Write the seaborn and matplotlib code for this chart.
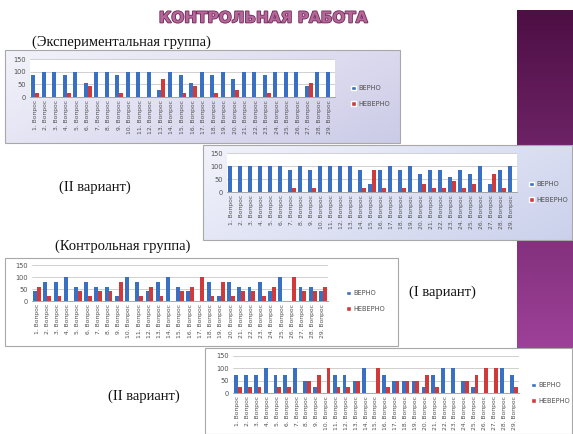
import numpy as np
import pandas as pd
import matplotlib
matplotlib.use("Agg")
import matplotlib.pyplot as plt
import matplotlib.patheffects as pe
from matplotlib.patches import Rectangle, Patch
import seaborn as sns

# ---------------- data ----------------
questions = [f"{i}. Вопрос" for i in range(1, 30)]
series_names = ["ВЕРНО", "НЕВЕРНО"]

exp1_verno = [86, 100, 100, 86, 100, 57, 100, 100, 86, 100, 100, 100, 29, 100, 86,
              57, 100, 86, 100, 71, 100, 100, 86, 100, 100, 100, 43, 100, 100]
exp1_neverno = [14, 0, 0, 14, 0, 43, 0, 0, 14, 0, 0, 0, 71, 0, 14,
                43, 0, 14, 0, 29, 0, 0, 14, 0, 0, 0, 57, 0, 0]

exp2_verno = [100, 100, 100, 100, 100, 100, 86, 100, 86, 100, 100, 100, 100, 86, 29,
              86, 100, 86, 100, 71, 86, 86, 57, 86, 71, 100, 29, 86, 100]
exp2_neverno = [0, 0, 0, 0, 0, 0, 14, 0, 14, 0, 0, 0, 0, 14, 86,
                14, 0, 14, 0, 29, 14, 14, 43, 14, 29, 0, 71, 14, 0]

ctl1_verno = [40, 80, 80, 100, 60, 80, 60, 60, 20, 100, 80, 40, 80, 100, 60,
              40, 0, 80, 20, 80, 60, 60, 80, 40, 100, 0, 60, 60, 40]
ctl1_neverno = [60, 20, 20, 0, 40, 20, 40, 40, 80, 0, 20, 60, 20, 0, 40,
                60, 100, 20, 80, 20, 40, 40, 20, 60, 0, 100, 40, 40, 60]

ctl2_verno = [75, 75, 75, 100, 75, 75, 100, 50, 25, 0, 75, 75, 50, 100, 0,
              75, 50, 50, 50, 25, 75, 100, 100, 50, 25, 0, 0, 100, 75]
ctl2_neverno = [25, 25, 25, 0, 25, 25, 0, 50, 75, 100, 25, 25, 50, 0, 100,
                25, 50, 50, 50, 75, 25, 0, 0, 50, 75, 100, 100, 0, 25]

y_ticks = [0, 50, 100, 150]

BLUE = "#3A70C2"
RED = "#D03A3A"

# ---------------- figure ----------------
sns.set_theme(style="white")
plt.rcParams["font.family"] = ["DejaVu Sans"]

W, H = 573, 434
fig = plt.figure(figsize=(W / 100, H / 100), dpi=100)
fig.patch.set_facecolor("white")


def rect(x0, y0, x1, y1):
    return [x0 / W, 1 - y1 / H, (x1 - x0) / W, (y1 - y0) / H]


def fx(x):
    return x / W


def fy(y):
    return 1 - y / H


def hex2rgb(h):
    h = h.lstrip("#")
    return np.array([int(h[i:i + 2], 16) / 255 for i in (0, 2, 4)])


def gradient_axes(x0, y0, x1, y1, c0, c1, mode="v", z=0):
    ax = fig.add_axes(rect(x0, y0, x1, y1), zorder=z)
    n = 200
    xx, yy = np.meshgrid(np.linspace(0, 1, n), np.linspace(0, 1, n))
    if mode == "v":
        t = yy
    else:
        t = np.clip(0.35 * yy + 0.65 * xx, 0, 1)
    a, b = hex2rgb(c0), hex2rgb(c1)
    img = a[None, None, :] * (1 - t[..., None]) + b[None, None, :] * t[..., None]
    ax.imshow(img, aspect="auto", extent=[0, 1, 0, 1], origin="upper")
    ax.set_axis_off()
    return ax


# purple stripe on the right
gradient_axes(517, 10, 573, 434, "#4d0f44", "#b24dae", mode="v", z=0)

# panels
gradient_axes(5, 50, 400, 143, "#f3f3fb", "#cccbe7", mode="d", z=1)
gradient_axes(203, 145, 573, 240, "#f2f3fb", "#cbd1ec", mode="d", z=1)
gradient_axes(5, 258, 398, 346, "#ffffff", "#ffffff", mode="v", z=1)
gradient_axes(205, 348, 573, 434, "#ffffff", "#ffffff", mode="v", z=1)

for (x0, y0, x1, y1) in [(5, 50, 400, 143), (203, 145, 572, 240),
                         (5, 258, 398, 346), (205, 348, 572, 434)]:
    fig.patches.append(Rectangle((fx(x0), fy(y1)), (x1 - x0) / W, (y1 - y0) / H,
                                 transform=fig.transFigure, fill=False,
                                 edgecolor="#a8a8a8", lw=0.8, zorder=2))


def draw_chart(verno, neverno, ax_box, legend_xy):
    x0, ytop, x1, yzero = ax_box
    ax = fig.add_axes(rect(x0, ytop, x1, yzero), zorder=3)
    df = pd.DataFrame({
        "q": questions * 2,
        "v": list(verno) + list(neverno),
        "t": [series_names[0]] * len(questions) + [series_names[1]] * len(questions),
    })
    sns.barplot(data=df, x="q", y="v", hue="t", order=questions,
                hue_order=series_names, palette=[BLUE, RED], width=0.76,
                saturation=1, ax=ax, legend=False, errorbar=None, linewidth=0)
    ax.set_facecolor("white")
    ax.set_xlim(-0.5, len(questions) - 0.5)
    ax.set_ylim(0, 150)
    ax.set_yticks(y_ticks)
    ax.set_yticklabels([str(t) for t in y_ticks])
    ax.yaxis.grid(True, color="#c9c9c9", lw=0.6)
    ax.set_axisbelow(True)
    for s in ["top", "right", "left"]:
        ax.spines[s].set_visible(False)
    ax.spines["bottom"].set_color("#9a9a9a")
    ax.spines["bottom"].set_linewidth(0.6)
    ax.set_xlabel("")
    ax.set_ylabel("")
    ax.tick_params(axis="y", length=0, pad=3, labelsize=4.8, labelcolor="#505050")
    ax.tick_params(axis="x", length=0, pad=2, labelsize=4.3, labelcolor="#505050")
    for lab in ax.get_xticklabels():
        lab.set_rotation(90)
    handles = [Patch(facecolor=BLUE), Patch(facecolor=RED)]
    lx, ly = legend_xy
    fig.legend(handles, series_names, loc="center left",
               bbox_to_anchor=(fx(lx), fy(ly)), frameon=False,
               fontsize=4.8, handlelength=0.7, handleheight=0.7,
               handletextpad=0.3, labelspacing=1.4, borderpad=0,
               labelcolor="#505050")
    return ax


draw_chart(exp1_verno, exp1_neverno, (30, 59, 335, 97), (348, 96))
draw_chart(exp2_verno, exp2_neverno, (227, 153, 517, 192), (526, 192))
draw_chart(ctl1_verno, ctl1_neverno, (32, 265, 328, 301), (343, 301))
draw_chart(ctl2_verno, ctl2_neverno, (233, 356, 519, 393), (528, 393))

# title
fig.text(fx(263), fy(18), "КОНТРОЛЬНАЯ РАБОТА", ha="center", va="center",
         fontsize=11, fontweight="bold", color="#b5679a",
         path_effects=[pe.withStroke(linewidth=1.2, foreground="#6e2a58")],
         zorder=5)

serif = ["Liberation Serif", "DejaVu Serif"]
fig.text(fx(121), fy(42), "(Экспериментальная группа)", ha="center", va="center",
         fontsize=10.5, family=serif, color="#111111")
fig.text(fx(95), fy(187), "(II вариант)", ha="center", va="center",
         fontsize=10.5, family=serif, color="#111111")
fig.text(fx(123), fy(246), "(Контрольная группа)", ha="center", va="center",
         fontsize=10.5, family=serif, color="#111111")
fig.text(fx(442), fy(292), "(I вариант)", ha="center", va="center",
         fontsize=10.5, family=serif, color="#111111")
fig.text(fx(144), fy(396), "(II вариант)", ha="center", va="center",
         fontsize=10.5, family=serif, color="#111111")

fig.savefig("out.png", dpi=100)
